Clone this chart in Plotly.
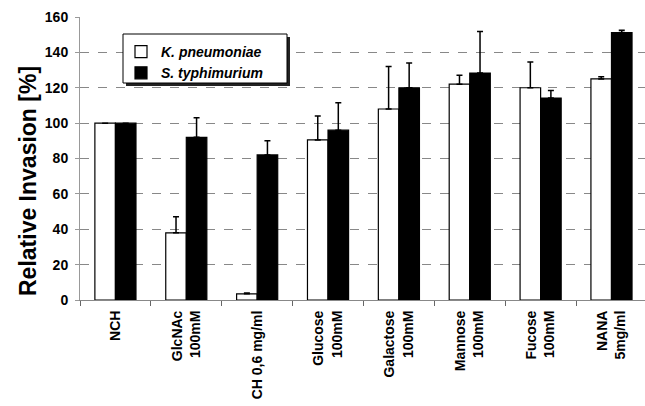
import plotly.graph_objects as go

categories = ["NCH", "GlcNAc<br>100mM", "CH 0,6 mg/ml", "Glucose<br>100mM",
              "Galactose<br>100mM", "Mannose<br>100mM", "Fucose<br>100mM", "NANA<br>5mg/ml"]
k_pneumoniae = [100, 38, 3.5, 90.5, 108, 122, 120, 125]
k_pneumoniae_err = [0, 9, 0.5, 13.5, 24, 5, 14.5, 1.2]
s_typhimurium = [100, 92, 82, 96, 120, 128.3, 114.2, 151.2]
s_typhimurium_err = [0, 11, 8, 15.5, 14, 23.5, 4.2, 1.3]
y_ticks = [0, 20, 40, 60, 80, 100, 120, 140, 160]

FONT = "Liberation Sans, Arial, sans-serif"

# plot-area geometry in pixels (for paper-coordinate conversion of decorations)
L, T, W, H = 80, 17, 565, 283
def px_x(px):
    return (px - L) / W
def px_y(py):
    return (T + H - py) / H

fig = go.Figure()
fig.add_trace(go.Bar(
    name="<i>K. pneumoniae</i>", x=categories, y=k_pneumoniae,
    marker=dict(color="white", line=dict(color="black", width=1.2)),
    error_y=dict(type="data", array=k_pneumoniae_err, arrayminus=[0]*8, symmetric=False,
                 color="black", thickness=1.5, width=3),
))
fig.add_trace(go.Bar(
    name="<i>S. typhimurium</i>", x=categories, y=s_typhimurium,
    marker=dict(color="black", line=dict(color="black", width=1.2)),
    error_y=dict(type="data", array=s_typhimurium_err, arrayminus=[0]*8, symmetric=False,
                 color="black", thickness=1.5, width=3),
))

fig.update_layout(
    width=645, height=406,
    margin=dict(l=L, r=0, t=T, b=106),
    paper_bgcolor="white", plot_bgcolor="white",
    barmode="group", bargap=0.42, bargroupgap=0,
    font=dict(family=FONT, color="black"),
    showlegend=True,
    legend=dict(
        x=px_x(121), y=px_y(36), xanchor="left", yanchor="top",
        bgcolor="rgba(0,0,0,0)", borderwidth=0,
        font=dict(family=FONT, size=14, weight="bold", color="black"),
        itemwidth=30, tracegroupgap=0,
    ),
    shapes=[
        dict(type="rect", xref="paper", yref="paper", layer="above",
             x0=px_x(126), x1=px_x(290), y0=px_y(86), y1=px_y(37),
             fillcolor="#222", line=dict(width=0)),
        dict(type="rect", xref="paper", yref="paper", layer="above",
             x0=px_x(123), x1=px_x(287), y0=px_y(83), y1=px_y(34),
             fillcolor="white", line=dict(color="black", width=1)),
    ],
    annotations=[dict(
        text="Relative Invasion [%]", textangle=-90,
        xref="paper", yref="paper", x=0, y=px_y(181),
        xanchor="center", yanchor="middle", xshift=-52, showarrow=False,
        font=dict(family=FONT, size=23, weight="bold", color="black"),
    )],
)
fig.update_xaxes(
    range=[-0.5, 7.473], tickangle=-90,
    tickfont=dict(family=FONT, size=14, weight="bold", color="black"),
    showline=True, linecolor="#888", linewidth=1,
    ticks="outside", tickson="boundaries", ticklen=5, tickcolor="#666",
    ticklabelstandoff=4,
    showgrid=False,
)
fig.update_yaxes(
    range=[0, 160], tickvals=y_ticks,
    tickfont=dict(family=FONT, size=14, weight="bold", color="black"),
    showline=True, linecolor="#999", linewidth=1,
    ticks="outside", ticklen=4, tickcolor="#999",
    ticklabelstandoff=4,
    showgrid=True, gridcolor="#888", gridwidth=1, griddash="dash",
    zeroline=False,
)

fig.write_html("out.html")
